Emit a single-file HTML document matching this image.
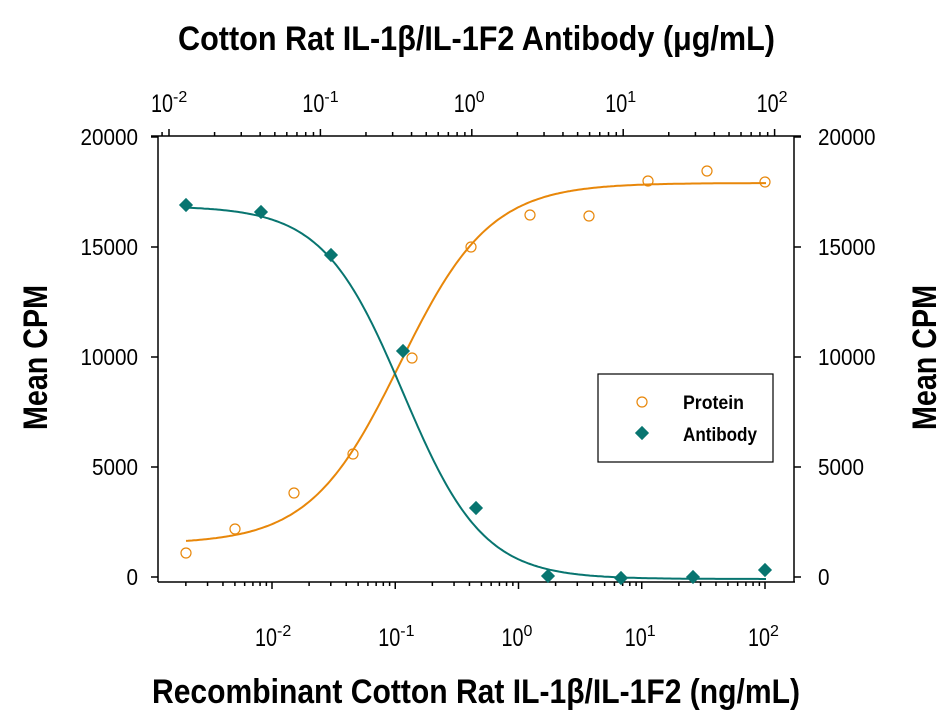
<!DOCTYPE html>
<html><head><meta charset="utf-8"><style>
html,body{margin:0;padding:0;background:#fff;}
svg{display:block;font-family:"Liberation Sans",sans-serif;}
</style></head><body>
<svg id="s" width="951" height="718" viewBox="0 0 951 718" xmlns="http://www.w3.org/2000/svg">
<rect width="951" height="718" fill="#fff"/>
<text x="178" y="50" font-size="34" font-weight="bold" textLength="597" lengthAdjust="spacingAndGlyphs">Cotton Rat IL-1β/IL-1F2 Antibody (μg/mL)</text>
<text x="152" y="703" font-size="34" font-weight="bold" textLength="648" lengthAdjust="spacingAndGlyphs">Recombinant Cotton Rat IL-1β/IL-1F2 (ng/mL)</text>
<text transform="translate(47,430) rotate(-90)" font-size="34" font-weight="bold" textLength="145" lengthAdjust="spacingAndGlyphs">Mean CPM</text>
<text transform="translate(936,430) rotate(-90)" font-size="34" font-weight="bold" textLength="145" lengthAdjust="spacingAndGlyphs">Mean CPM</text>
<g id="ax" stroke="#000" stroke-width="1.5" fill="none"></g>
<g id="lbl" font-size="23"></g>
<g id="dat"></g>
<rect x="598" y="374" width="175" height="88" fill="#fff" stroke="#000" stroke-width="1.2"/>
<circle cx="642" cy="402" r="5" fill="none" stroke="#e8870a" stroke-width="1.2"/>
<rect x="637" y="428" width="10" height="10" fill="#087570" transform="rotate(45 642 433)"/>
<text x="683" y="409" font-size="19" font-weight="bold" textLength="61" lengthAdjust="spacingAndGlyphs">Protein</text>
<text x="683" y="441" font-size="19" font-weight="bold" textLength="74" lengthAdjust="spacingAndGlyphs">Antibody</text>
</svg>
<script>
var NS="http://www.w3.org/2000/svg";
function el(p,t,a,txt){var e=document.createElementNS(NS,t);for(var k in a)e.setAttribute(k,a[k]);if(txt!=null)e.textContent=txt;p.appendChild(e);return e;}
var ax=document.getElementById('ax'),lb=document.getElementById('lbl'),dt=document.getElementById('dat');
el(ax,'line',{x1:158,y1:136,x2:158,y2:582});
el(ax,'line',{x1:794,y1:136,x2:794,y2:582});
el(ax,'line',{x1:151,y1:136,x2:801,y2:136});
el(ax,'line',{x1:158,y1:582,x2:795,y2:582});
for(var i=0;i<=4;i++){var y=577-i*110;
 el(ax,'line',{x1:151,y1:y,x2:158,y2:y});el(ax,'line',{x1:794,y1:y,x2:801,y2:y});
 var v=String(i*5000);
 el(lb,'text',{x:138,y:y+8,'text-anchor':'end',textLength:v.length*11.5,lengthAdjust:'spacingAndGlyphs'},v);
 el(lb,'text',{x:818,y:y+8,textLength:v.length*11.5,lengthAdjust:'spacingAndGlyphs'},v);}
var bx0=272,bd=123.25;
for(var d=-3;d<=2;d++)for(var m=1;m<10;m++){var v=Math.pow(10,d)*m;if(v<0.0019||v>100.1)continue;
 var x=bx0+bd*(Math.log10(v)+2);var L=m==1?7:4;el(ax,'line',{x1:x,y1:582,x2:x,y2:582+L});}
var tx0=169,td=151.4;
for(var d=-3;d<=2;d++)for(var m=1;m<10;m++){var v=Math.pow(10,d)*m;if(v<0.0085||v>100.1)continue;
 var x=tx0+td*(Math.log10(v)+2);var L=m==1?7:4;el(ax,'line',{x1:x,y1:136,x2:x,y2:136-L});}
function pw(p,x,y,e){var t=el(p,'text',{x:x,y:y,'font-size':25});
 el(t,'tspan',{textLength:22,lengthAdjust:'spacingAndGlyphs'},'10');el(t,'tspan',{dy:-10,'font-size':16},e);return t;}
[-2,-1,0,1,2].forEach(function(e){
 var x=bx0+bd*(e+2);pw(lb,x-17,646,String(e));
 var x2=tx0+td*(e+2);pw(lb,x2-18,112,String(e));});
function path(f,x1,x2){var s='';for(var x=x1;x<=x2;x+=2){s+=(s?'L':'M')+x+','+f(x).toFixed(1);}return s;}
var prot=function(x){return 544-(361)/(1+Math.exp(-(x-400)/45));};
var anti=function(x){return 206+373/(1+Math.exp(-(x-403)/40));};
el(dt,'path',{d:path(prot,186,766),fill:'none',stroke:'#e8870a','stroke-width':2});
el(dt,'path',{d:path(anti,186,766),fill:'none',stroke:'#087570','stroke-width':2});
[[186,553],[235,529],[294,493],[353,454],[412,358],[471,247],[530,215],[589,216],[648,181],[707,171],[765,182]].forEach(function(p){
 el(dt,'circle',{cx:p[0],cy:p[1],r:5,fill:'none',stroke:'#e8870a','stroke-width':1.2});});
[[186,205],[261,212],[331,255],[403,351],[476,508],[548,576],[621,578],[693,577],[765,570]].forEach(function(p){
 el(dt,'rect',{x:p[0]-5,y:p[1]-5,width:10,height:10,fill:'#087570',transform:'rotate(45 '+p[0]+' '+p[1]+')'});});
</script>
</body></html>
